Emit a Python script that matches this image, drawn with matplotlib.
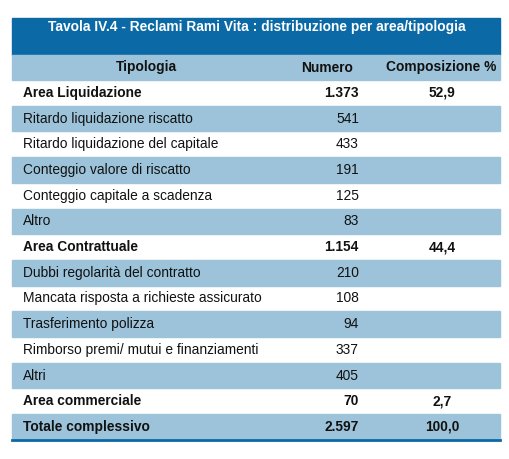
import matplotlib.pyplot as plt
from matplotlib.patches import Rectangle

plt.rcParams['font.family'] = ['Liberation Sans', 'DejaVu Sans']

TITLE = "Tavola IV.4 - Reclami Rami Vita : distribuzione per area/tipologia"
HEADERS = ["Tipologia", "Numero", "Composizione %"]
tipologia = ["Area Liquidazione", "Ritardo liquidazione riscatto", "Ritardo liquidazione del capitale",
             "Conteggio valore di riscatto", "Conteggio capitale a scadenza", "Altro",
             "Area Contrattuale", "Dubbi regolarità del contratto", "Mancata risposta a richieste assicurato",
             "Trasferimento polizza", "Rimborso premi/ mutui e finanziamenti", "Altri",
             "Area commerciale", "Totale complessivo"]
numero = ["1.373", "541", "433", "191", "125", "83", "1.154", "210", "108", "94", "337", "405", "70", "2.597"]
composizione = ["52,9", "", "", "", "", "", "44,4", "", "", "", "", "", "2,7", "100,0"]
bold_rows = [0, 6, 12, 13]

DARK = '#0b6aa6'
LIGHT = '#9cc3da'
FS = 9.9

fig = plt.figure(figsize=(5.10, 4.59), dpi=100)
ax = fig.add_axes([0, 0, 1, 1])
ax.set_xlim(0, 510)
ax.set_ylim(459, 0)
ax.axis('off')

x0, x1 = 12, 500
ax.add_patch(Rectangle((x0, 18), x1 - x0, 37, color=DARK))
ax.text(257, 27, TITLE, color='white', fontsize=FS, fontweight='bold', ha='center', va='center')

ax.add_patch(Rectangle((x0, 55), x1 - x0, 25, color=LIGHT))
for x, h in zip([146, 327, 441], HEADERS):
    ax.text(x, 67.5, h, fontsize=FS, fontweight='bold', ha='center', va='center', color='#111111')

top, rh = 80, 25.7
for i, (t, n, c) in enumerate(zip(tipologia, numero, composizione)):
    y = top + i * rh
    if i % 2 == 1:
        ax.add_patch(Rectangle((x0, y), x1 - x0, rh, color=LIGHT))
    w = 'bold' if i in bold_rows else 'normal'
    ax.text(23, y + rh / 2, t, fontsize=FS, fontweight=w, ha='left', va='center', color='#111111')
    ax.text(359, y + rh / 2, n, fontsize=FS, fontweight=w, ha='right', va='center', color='#111111')
    ax.text(442, y + rh / 2, c, fontsize=FS, fontweight=w, ha='center', va='center', color='#111111')

yb = top + len(tipologia) * rh
ax.plot([x0, x1], [yb, yb], color=DARK, lw=2)

fig.savefig('out.png', dpi=100)
